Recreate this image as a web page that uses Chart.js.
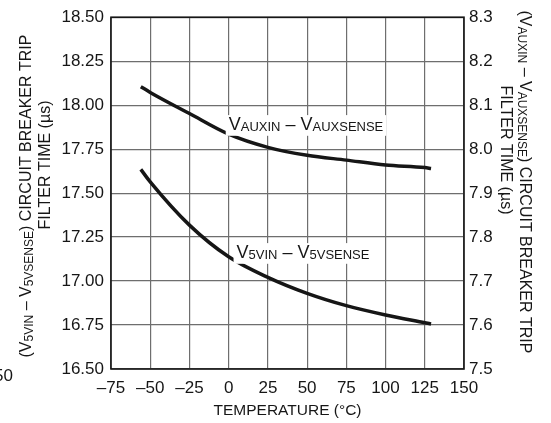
<!DOCTYPE html>
<html>
<head>
<meta charset="utf-8">
<script src="https://cdn.jsdelivr.net/npm/chart.js@4.4.1/dist/chart.umd.min.js"></script>
<style>
  html, body { margin: 0; padding: 0; background: #fff; }
  #c { display: block; }
</style>
</head>
<body>
<canvas id="c" width="551" height="423"></canvas>
<script>
// Datos
const temps   = [-56, -50, -25, 0, 25, 50, 75, 100, 125, 129];
const v5vin   = [17.635, 17.564, 17.318, 17.138, 17.021, 16.930, 16.860, 16.807, 16.763, 16.756]; // eje izq
const vauxin  = [8.142, 8.129, 8.081, 8.034, 8.004, 7.986, 7.975, 7.964, 7.958, 7.956];         // eje der
const xTicks  = [-75, -50, -25, 0, 25, 50, 75, 100, 125, 150];
const yLeft   = { min: 16.5, max: 18.5, step: 0.25 };
const yRight  = { min: 7.5, max: 8.3, step: 0.1 };

(() => {
  const $ = (s) => document.querySelector(s);
  const FONT = '"Liberation Sans", Arial, sans-serif';
  const INK = '#161616';
  const GRID = '#6e6e6e';

  // texto con subíndices: [[texto, esSub], ...]
  function richWidth(ctx, segs, F, S){
    let w = 0;
    segs.forEach(([t, sub]) => { ctx.font = `${sub ? S : F}px ${FONT}`; w += ctx.measureText(t).width; });
    return w;
  }
  function drawRich(ctx, segs, cx, cy, rot, F, S, bg){
    ctx.save();
    ctx.translate(cx, cy);
    ctx.rotate(rot);
    const w = richWidth(ctx, segs, F, S);
    if (bg) { ctx.fillStyle = '#fff'; ctx.fillRect(-w/2 - 3, -F*0.55, w + 6, F*1.15); }
    let x = -w/2;
    ctx.fillStyle = INK;
    ctx.textBaseline = 'middle';
    ctx.textAlign = 'left';
    segs.forEach(([t, sub]) => {
      ctx.font = `${sub ? S : F}px ${FONT}`;
      ctx.fillText(t, x, sub ? 2.5 : 0);
      x += ctx.measureText(t).width;
    });
    ctx.restore();
  }

  const leftT1  = [['(V', 0], ['5VIN', 1], [' – V', 0], ['5VSENSE', 1], [') CIRCUIT BREAKER TRIP', 0]];
  const rightT1 = [['(V', 0], ['AUXIN', 1], [' – V', 0], ['AUXSENSE', 1], [') CIRCUIT BREAKER TRIP', 0]];
  const line2   = [['FILTER TIME (µs)', 0]];
  const lblAux  = [['V', 0], ['AUXIN', 1], [' – V', 0], ['AUXSENSE', 1]];
  const lbl5v   = [['V', 0], ['5VIN', 1], [' – V', 0], ['5VSENSE', 1]];

  const extras = {
    id: 'extras',
    beforeDatasetsDraw(chart){
      const { ctx, chartArea: a } = chart;
      // marco completo
      ctx.save();
      ctx.strokeStyle = INK; ctx.lineWidth = 1.6;
      ctx.strokeRect(a.left, a.top, a.right - a.left, a.bottom - a.top);
      ctx.restore();
    },
    afterDatasetsDraw(chart){
      const { ctx } = chart;
      // rótulos de curvas
      drawRich(ctx, lblAux, 306, 125, 0, 18, 13, true);
      drawRich(ctx, lbl5v, 303, 253, 0, 18, 13, true);
      // títulos de ejes
      drawRich(ctx, leftT1, 27, 196, -Math.PI/2, 16, 12);
      drawRich(ctx, line2, 46, 165, -Math.PI/2, 16, 12);
      drawRich(ctx, rightT1, 524, 182, Math.PI/2, 16, 12);
      drawRich(ctx, line2, 505, 150, Math.PI/2, 16, 12);
      // resto de etiqueta recortada
      ctx.save();
      ctx.font = `17px ${FONT}`; ctx.fillStyle = INK;
      ctx.textAlign = 'right'; ctx.textBaseline = 'middle';
      ctx.fillText('50', 13, 376);
      ctx.restore();
    }
  };

  const ds = (data, axis) => ({
    data: temps.map((t, i) => ({ x: t, y: data[i] })),
    yAxisID: axis,
    borderColor: INK, borderWidth: 3.5,
    pointRadius: 0, cubicInterpolationMode: 'monotone', fill: false
  });

  new Chart($('#c').getContext('2d'), {
    type: 'line',
    data: { datasets: [ds(v5vin, 'y'), ds(vauxin, 'y1')] },
    plugins: [extras],
    options: {
      responsive: false, animation: false,
      layout: { padding: { top: 17, left: 0, right: 0, bottom: 0 } },
      plugins: { legend: { display: false }, tooltip: { enabled: false } },
      scales: {
        x: {
          type: 'linear', min: xTicks[0], max: xTicks[xTicks.length - 1],
          afterBuildTicks: (s) => { s.ticks = xTicks.map(v => ({ value: v })); },
          afterFit: (s) => { s.height = 54; },
          grid: { color: GRID, lineWidth: 1.2, drawTicks: false },
          border: { display: false },
          ticks: { color: INK, font: { family: FONT, size: 17 }, padding: 9, maxRotation: 0,
                   callback: (v) => v < 0 ? '–' + (-v) : String(v) },
          title: { display: true, text: 'TEMPERATURE (°C)', color: INK,
                   font: { family: FONT, size: 15.5 }, padding: { top: 0, bottom: 3 } }
        },
        y: {
          position: 'left', min: yLeft.min, max: yLeft.max,
          afterFit: (s) => { s.width = 111; },
          grid: { color: GRID, lineWidth: 1.2, drawTicks: false },
          border: { display: false },
          ticks: { stepSize: yLeft.step, color: INK, font: { family: FONT, size: 17 }, padding: 7,
                   callback: (v) => v.toFixed(2) }
        },
        y1: {
          position: 'right', min: yRight.min, max: yRight.max,
          afterFit: (s) => { s.width = 87; },
          grid: { display: false, drawTicks: false },
          border: { display: false },
          ticks: { stepSize: yRight.step, color: INK, font: { family: FONT, size: 17 }, padding: 5,
                   callback: (v) => v.toFixed(1) }
        }
      }
    }
  });
})();
</script>
</body>
</html>
